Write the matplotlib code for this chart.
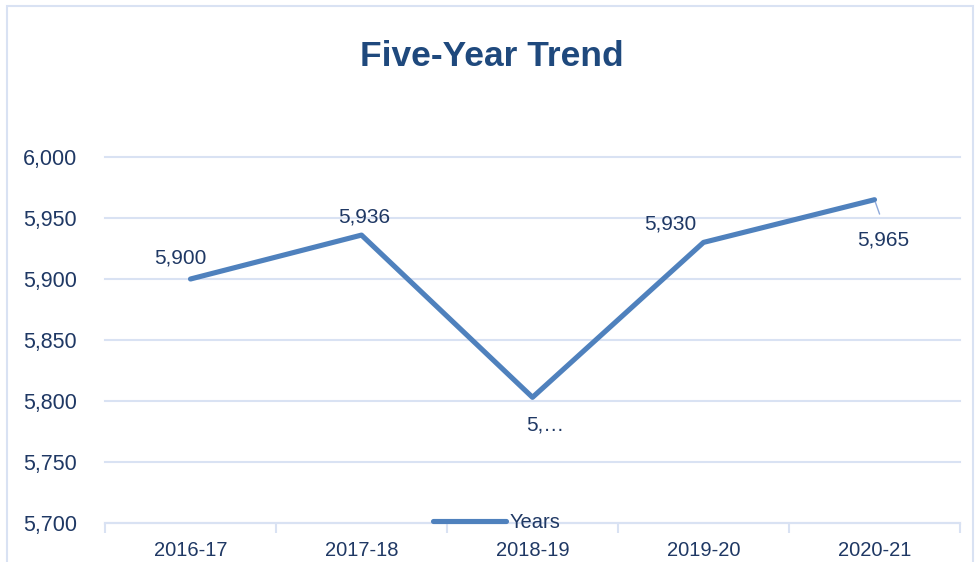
import matplotlib.pyplot as plt
from matplotlib.patches import Rectangle
import numpy as np

years = ['2016-17', '2017-18', '2018-19', '2019-20', '2020-21']
values = [5900, 5936, 5803, 5930, 5965]
point_labels = ['5,900', '5,936', '5,…', '5,930', '5,965']
y_ticks = [5700, 5750, 5800, 5850, 5900, 5950, 6000]

navy = '#1F3864'
line_blue = '#4F81BD'
grid_blue = '#D9E2F3'

plt.rcParams['font.family'] = ['Liberation Sans', 'DejaVu Sans']

fig = plt.figure(figsize=(9.78, 5.62), dpi=100)
W, H = 978, 562
ax = fig.add_axes([105 / W, (H - 523) / H, (960 - 105) / W, (523 - 157) / H])

x = np.arange(len(years))
ax.plot(x, values, color=line_blue, lw=3.7, solid_capstyle='round', label='Years', zorder=3)

ax.set_xlim(-0.5, len(years) - 0.5)
ax.set_ylim(5700, 6000)
ax.set_yticks(y_ticks)
ax.set_yticklabels([f'{v:,}' for v in y_ticks], fontsize=15.5, color=navy)
ax.set_xticks(x)
ax.set_xticklabels(years, fontsize=14.5, color=navy)
ax.set_xticks(np.arange(len(years) + 1) - 0.5, minor=True)
ax.tick_params(axis='y', length=0, pad=20)
ax.tick_params(axis='x', which='major', length=0, pad=13)
ax.tick_params(axis='x', which='minor', length=7, color=grid_blue, width=1.5)
ax.grid(axis='y', color=grid_blue, lw=1.5)
for gl in ax.get_ygridlines():
    gl.set_clip_on(False)
ax.set_axisbelow(True)
for s in ['top', 'right', 'left']:
    ax.spines[s].set_visible(False)
ax.spines['bottom'].set_color(grid_blue)
ax.spines['bottom'].set_linewidth(1.5)

# data labels
offsets = [(-10, 21), (3, 18), (13, -28), (-33, 18), (9, -40)]
for xi, v, lab, (dx, dy) in zip(x, values, point_labels, offsets):
    ax.annotate(lab, (xi, v), xytext=(dx * 0.72, dy * 0.72), textcoords='offset points',
                ha='center', va='center', fontsize=15, color=navy)
# leader line for last label
ax.annotate('', (x[-1], values[-1]), xytext=(6 * 0.72, -17 * 0.72), textcoords='offset points',
            arrowprops=dict(arrowstyle='-', color='#8EA9DB', lw=1))

leg = ax.legend(loc='center', bbox_to_anchor=(497 / W, (H - 523) / H),
                bbox_transform=fig.transFigure, frameon=False, fontsize=14.5,
                handlelength=3.6, handletextpad=0.2, labelcolor=navy)

fig.text(492 / W, (H - 56) / H, 'Five-Year Trend', ha='center', va='center',
         fontsize=25.5, fontweight='bold', color='#1F497D')

fig.patches.append(Rectangle((7 / W, -0.05), (973 - 7) / W, (H - 6) / H + 0.05,
                             transform=fig.transFigure, fill=False,
                             edgecolor=grid_blue, lw=1.5))

fig.savefig('out.png', dpi=100)
